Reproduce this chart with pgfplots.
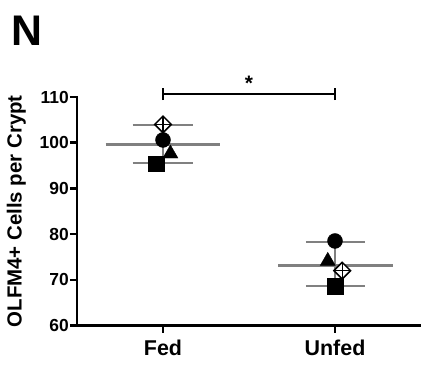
\documentclass[border=0pt]{standalone}
\usepackage{pgfplots}
\pgfplotsset{compat=1.18}
\usepackage{fontspec}
\setmainfont{Liberation Sans}
\definecolor{mgray}{RGB}{128,128,128}
\begin{document}
\begin{tikzpicture}
\path[use as bounding box] (0bp,0bp) rectangle (421bp,366bp);
\node[font=\fontsize{43}{48}\selectfont\bfseries] at (27bp,335.5bp) {N};
\begin{axis}[
  at={(77bp,40.5bp)}, anchor=south west,
  scale only axis, width=344bp, height=228.5bp,
  xmin=0.5, xmax=2.5, ymin=60, ymax=110,
  clip=false,
  axis lines=left,
  axis line style={-, line width=2.9bp, line cap=rect},
  tick align=outside,
  major tick length=7bp,
  tick style={black, line width=2.4bp},
  xtick={1,2}, xticklabels={Fed,Unfed},
  ytick={60,70,80,90,100,110},
  /pgf/number format/assume math mode=true,
  yticklabel style={font=\fontsize{17.5}{20}\selectfont\bfseries, inner sep=1bp},
  xticklabel style={font=\fontsize{21.5}{24}\selectfont\bfseries, yshift=-3.5bp},
  ylabel={OLFM4+ Cells per Crypt},
  ylabel style={font=\fontsize{20.5}{24}\selectfont\bfseries, at={(axis description cs:-0.176,0.5)}, anchor=center},
]
% mean lines
\addplot[mgray, line width=3bp] coordinates {(0.667,99.6) (1.330,99.6)};
\addplot[mgray, line width=3bp] coordinates {(1.669,73.2) (2.337,73.2)};
% SD lines
\addplot[mgray, line width=2bp] coordinates {(0.824,103.87) (1.173,103.87)};
\addplot[mgray, line width=2bp] coordinates {(0.824,95.62) (1.173,95.62)};
\addplot[mgray, line width=2bp] coordinates {(1,95.62) (1,103.87)};
\addplot[mgray, line width=2bp] coordinates {(1.831,78.3) (2.174,78.3)};
\addplot[mgray, line width=2bp] coordinates {(1.831,68.7) (2.174,68.7)};
\addplot[mgray, line width=2bp] coordinates {(2,68.7) (2,78.3)};
% markers
\addplot[only marks, mark=square*, mark size=7.8bp, black] coordinates {(0.961,95.4) (2,68.6)};
\addplot[only marks, mark=triangle*, mark size=8.7bp, black] coordinates {(1.043,97.6) (1.958,74.1)};
\addplot[only marks, mark=*, mark size=7.5bp, black] coordinates {(1,100.6) (2,78.5)};
\addplot[only marks, mark=square*, mark size=5.9bp, mark options={rotate=45, fill=white, draw=black, line width=1.5bp}] coordinates {(1,104.0) (2.042,72.0)};
\addplot[only marks, mark=+, mark size=8bp, mark options={black, line width=1.4bp}] coordinates {(1,104.0) (2.042,72.0)};
% significance bracket
\draw[black, line width=1.7bp] (axis cs:1,109.34) -- (axis cs:1,111.96);
\draw[black, line width=1.7bp] (axis cs:2,109.34) -- (axis cs:2,111.96);
\draw[black, line width=1.7bp] (axis cs:1,110.65) -- (axis cs:2,110.65);
\node[font=\fontsize{21}{24}\selectfont\bfseries, anchor=base] at (axis cs:1.5,111.5) {*};
\end{axis}
\end{tikzpicture}
\end{document}
